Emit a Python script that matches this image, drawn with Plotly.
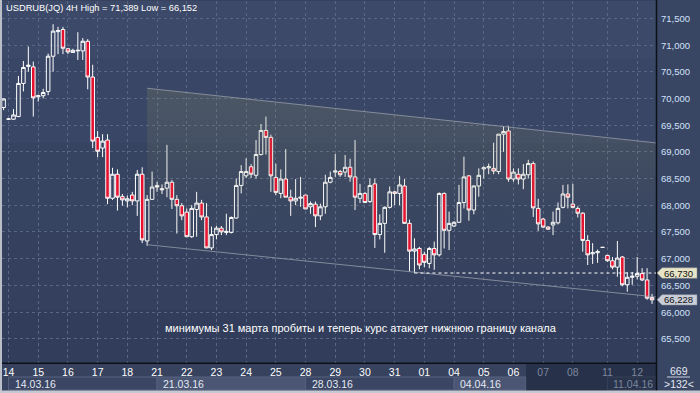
import plotly.graph_objects as go

# ---------------- data ----------------
opens = [69.83, 69.61, 69.61, 69.66, 70.28, 70.60, 70.59, 70.03, 70.05, 70.13,
         70.79, 71.25, 71.29, 70.93, 70.86, 70.89, 70.89, 71.07, 70.40, 69.27,
         69.07, 69.22, 68.13, 68.58, 68.16, 68.08, 68.19, 68.08, 68.58, 67.33,
         68.11, 68.37, 68.31, 68.32, 68.43, 68.11, 67.99, 67.87, 67.41, 67.92,
         68.04, 67.78, 67.20, 67.45, 67.57, 67.49, 67.49, 67.76, 68.37, 68.55,
         68.72, 68.56, 68.95, 69.40, 69.27, 68.52, 68.22, 68.49, 68.15, 68.08,
         68.13, 68.19, 67.97, 68.02, 67.80, 67.97, 68.43, 68.62, 68.63, 68.62,
         68.71, 68.53, 68.13, 68.22, 68.07, 68.40, 67.45, 67.66, 67.96, 68.25,
         68.22, 68.36, 67.66, 67.14, 67.19, 67.08, 66.91, 67.19, 67.07, 68.22,
         67.53, 67.61, 67.68, 68.05, 68.55, 67.91, 68.36, 68.68, 68.70, 68.69,
         68.63, 69.33, 69.39, 68.49, 68.58, 68.49, 68.57, 68.78, 67.94, 67.74,
         67.59, 67.63, 67.67, 67.96, 68.21, 68.02, 67.94, 67.85, 67.34, 67.09,
         67.11, 67.21, 67.06, 66.96, 66.84, 67.03, 66.51, 66.65, 66.67, 66.72,
         66.60, 66.27]
highs = [70.00, 69.63, 69.80, 70.42, 70.70, 70.97, 70.69, 70.07, 70.18, 70.84,
         71.389, 71.34, 71.34, 70.94, 70.93, 71.24, 71.13, 71.11, 70.63, 69.39,
         69.33, 69.33, 68.70, 68.67, 68.21, 68.18, 68.25, 68.66, 68.71, 68.19,
         68.63, 68.44, 68.39, 69.13, 68.47, 68.19, 68.04, 67.94, 68.00, 68.25,
         68.10, 68.04, 67.60, 67.61, 67.61, 67.84, 67.79, 68.50, 68.75, 68.88,
         68.77, 69.22, 69.52, 69.66, 69.32, 68.78, 68.67, 69.05, 68.29, 68.49,
         68.53, 68.19, 68.07, 68.07, 68.03, 68.57, 68.63, 68.96, 68.66, 68.94,
         68.87, 69.22, 68.40, 68.25, 68.50, 68.50, 67.83, 67.98, 68.35, 68.27,
         68.55, 68.49, 67.73, 67.38, 67.22, 67.13, 67.22, 67.32, 68.24, 68.24,
         67.88, 67.70, 68.38, 68.91, 68.56, 68.37, 68.69, 68.73, 68.78, 69.17,
         69.33, 69.48, 69.48, 68.69, 68.69, 68.77, 68.85, 68.82, 68.12, 67.76,
         67.61, 67.88, 68.05, 68.38, 68.39, 68.40, 67.98, 67.87, 67.44, 67.29,
         67.17, 67.21, 67.07, 67.03, 67.33, 67.05, 66.75, 66.75, 67.03, 66.82,
         66.82, 66.34]
lows = [69.78, 69.60, 69.60, 69.65, 70.13, 70.50, 69.66, 69.94, 70.00, 70.06,
        70.50, 70.83, 70.83, 70.83, 70.85, 70.72, 70.72, 70.17, 69.07, 68.90,
        68.90, 68.02, 68.10, 67.90, 67.99, 67.96, 68.00, 67.80, 67.29, 67.24,
        68.10, 68.25, 68.21, 68.15, 67.93, 67.47, 67.72, 67.41, 67.39, 67.41,
        67.72, 67.20, 67.16, 67.36, 67.44, 67.44, 67.47, 67.75, 68.22, 68.51,
        68.51, 68.50, 68.93, 68.95, 68.25, 68.19, 68.13, 68.15, 67.80, 68.00,
        67.97, 67.93, 67.84, 67.59, 67.72, 67.84, 68.41, 68.53, 68.53, 68.53,
        68.44, 67.91, 68.04, 68.04, 68.04, 67.20, 67.36, 67.11, 67.94, 68.00,
        68.00, 67.65, 66.76, 66.73, 66.80, 66.84, 66.82, 66.79, 67.04, 67.19,
        67.16, 67.59, 67.67, 67.94, 67.71, 67.83, 68.16, 68.50, 68.58, 68.58,
        68.58, 69.00, 68.44, 68.44, 68.39, 68.30, 68.50, 67.78, 67.52, 67.57,
        67.54, 67.44, 67.64, 67.94, 67.94, 67.94, 67.77, 67.13, 66.88, 66.90,
        66.92, 67.21, 66.94, 66.80, 66.66, 66.48, 66.38, 66.51, 66.61, 66.58,
        66.23, 66.152]
closes = [69.99, 69.615, 69.69, 70.28, 70.58, 70.62, 70.01, 70.05, 70.11, 70.79,
          71.26, 71.27, 70.94, 70.87, 70.90, 70.90, 71.07, 70.40, 69.20, 69.01,
          69.20, 68.13, 68.58, 68.15, 68.10, 68.12, 68.08, 68.58, 67.35, 68.11,
          68.34, 68.34, 68.29, 68.43, 68.11, 67.99, 67.80, 67.41, 67.94, 68.04,
          67.78, 67.20, 67.45, 67.57, 67.50, 67.51, 67.77, 68.37, 68.63, 68.63,
          68.58, 68.95, 69.40, 69.27, 68.55, 68.24, 68.49, 68.15, 68.08, 68.13,
          68.15, 67.93, 68.03, 67.80, 67.97, 68.43, 68.52, 68.64, 68.57, 68.71,
          68.53, 68.15, 68.22, 68.05, 68.37, 67.45, 67.66, 67.96, 68.25, 68.22,
          68.38, 67.66, 67.14, 67.18, 66.88, 66.93, 67.19, 67.07, 68.22, 67.53,
          67.66, 67.68, 68.05, 68.53, 67.91, 68.36, 68.56, 68.70, 68.72, 68.64,
          69.33, 69.38, 68.49, 68.62, 68.49, 68.58, 68.78, 67.95, 67.65, 67.59,
          67.55, 67.68, 67.94, 68.21, 68.15, 67.96, 67.85, 67.34, 67.07, 67.11,
          67.13, 67.21, 66.96, 66.84, 67.01, 66.51, 66.65, 66.67, 66.72, 66.60,
          66.26, 66.228]
bar_index = list(range(len(closes)))

day_ticks = [1, 7, 13, 19, 25, 31, 37, 43, 49, 55, 61, 67, 73, 79, 85,
             91, 97, 103, 109, 115, 122, 128]
day_labels = ["14", "15", "16", "17", "18", "21", "22", "23", "24", "25", "28",
              "29", "30", "31", "01", "04", "05", "06", "07", "08", "11", "12"]
day_dim = [False] * 18 + [True] * 4
week_ticks = [1, 31, 61, 91, 122]
week_labels = ["14.03.16", "21.03.16", "28.03.16", "04.04.16", "11.04.16"]

price_ticks = [65.5, 66.0, 66.5, 67.0, 67.5, 68.0, 68.5, 69.0, 69.5, 70.0, 70.5, 71.0, 71.5]
price_labels = ["65,500", "66,000", "66,500", "67,000", "67,500", "68,000", "68,500",
                "69,000", "69,500", "70,000", "70,500", "71,000", "71,500"]

channel_x = [29, 132]
channel_upper = [70.19, 69.165]
channel_lower = [67.26, 66.28]

march31_low = 66.73
last_price = 66.228
title_text = "USDRUB(JQ) 4H High = 71,389 Low = 66,152"
note_text = "минимумы 31 марта пробиты и теперь курс атакует нижнюю границу канала"
bars_total = "669"
bars_visible = ">132<"

# ---------------- layout geometry ----------------
W, H = 700, 393
ML, MR, MT, MB = 2, 44, 1, 30
PW, PH = W - ML - MR, H - MT - MB
X_RANGE = [-0.32, 131.8]
Y_RANGE = [65.045, 71.824]

def px_x(px):
    return (px - ML) / PW

def px_y(py):
    return (H - MB - py) / PH

def idx_px(i):
    return ML + (i - X_RANGE[0]) * PW / (X_RANGE[1] - X_RANGE[0])

FONT = "Liberation Sans, Arial, sans-serif"
RED = "#e8102f"

fig = go.Figure()

# channel fill (vertical gradient) and border lines
fig.add_trace(go.Scatter(
    x=[channel_x[0], channel_x[1], channel_x[1], channel_x[0]],
    y=[channel_lower[0], channel_lower[1], channel_upper[1], channel_upper[0]],
    mode="none", fill="toself",
    fillgradient=dict(type="vertical",
                      colorscale=[[0, "rgba(134,137,95,0.0)"], [0.45, "rgba(134,137,95,0.06)"],
                                  [1, "rgba(134,137,95,0.24)"]]),
    hoverinfo="skip", showlegend=False))
for ys in (channel_lower, channel_upper):
    fig.add_trace(go.Scatter(x=channel_x, y=ys, mode="lines",
                             line=dict(color="rgba(150,156,168,0.8)", width=1),
                             hoverinfo="skip", showlegend=False))

fig.add_trace(go.Candlestick(
    x=bar_index, open=opens, high=highs, low=lows, close=closes,
    increasing=dict(line=dict(color="#ffffff", width=1), fillcolor="rgba(0,0,0,0)"),
    decreasing=dict(line=dict(color="#ffffff", width=1), fillcolor=RED),
    whiskerwidth=0, hoverinfo="skip", showlegend=False))

shapes = []
# background gradient bands in the plot area
bands = [(1, 58, "#3c4969"), (58, 143, "#394666"), (143, 230, "#364361"),
         (230, 310, "#34405e"), (310, 363, "#313d5a")]
for y0, y1, c in bands:
    shapes.append(dict(type="rect", xref="paper", yref="paper", x0=0, x1=1,
                       y0=px_y(y1), y1=px_y(y0), fillcolor=c, line_width=0, layer="below"))

# bottom axis panel
shapes.append(dict(type="rect", xref="paper", yref="paper", x0=px_x(0), x1=px_x(656),
                   y0=px_y(393), y1=px_y(363), fillcolor="#36425e", line_width=0, layer="below"))
for k, wt in enumerate(week_ticks):
    x0 = idx_px(wt)
    x1 = idx_px(week_ticks[k + 1]) if k + 1 < len(week_ticks) else 656
    if k == 3:
        x1 = 526
    col = "#4a5674" if k % 2 == 1 else "#3a4663"
    shapes.append(dict(type="rect", xref="paper", yref="paper", x0=px_x(x0), x1=px_x(x1),
                       y0=px_y(390), y1=px_y(377), fillcolor=col,
                       line=dict(color="#56627e", width=1), layer="below"))
# dim overlay on the right side of time axis
shapes.append(dict(type="rect", xref="paper", yref="paper", x0=px_x(526), x1=px_x(656),
                   y0=px_y(391), y1=px_y(364), fillcolor="rgba(28,36,56,0.55)",
                   line_width=0, layer="below"))
# right panel
shapes.append(dict(type="rect", xref="paper", yref="paper", x0=px_x(656), x1=px_x(700),
                   y0=px_y(393), y1=px_y(0), fillcolor="#384563", line_width=0, layer="below"))
# separating black lines
shapes.append(dict(type="line", xref="paper", yref="paper", x0=px_x(656.5), x1=px_x(656.5),
                   y0=px_y(393), y1=px_y(0), line=dict(color="#0c1018", width=1.5)))
shapes.append(dict(type="line", xref="paper", yref="paper", x0=px_x(0), x1=px_x(656.5),
                   y0=px_y(363.3), y1=px_y(363.3), line=dict(color="#0c1018", width=1.5)))
# light frame
shapes.append(dict(type="rect", xref="paper", yref="paper", x0=px_x(0), x1=px_x(2),
                   y0=px_y(393), y1=px_y(0), fillcolor="#b9bec8", line_width=0))
shapes.append(dict(type="rect", xref="paper", yref="paper", x0=px_x(0), x1=px_x(700),
                   y0=px_y(393), y1=px_y(390.5), fillcolor="#c4c8d0", line_width=0))
# bar-count separator
shapes.append(dict(type="line", xref="paper", yref="paper", x0=px_x(667), x1=px_x(690),
                   y0=px_y(377), y1=px_y(377), line=dict(color="#c8d0e0", width=1)))

# dotted level of 31 March low
shapes.append(dict(type="line", xref="x", yref="y", x0=83, x1=X_RANGE[1],
                   y0=march31_low, y1=march31_low,
                   line=dict(color="#ffffff", width=1, dash="dot")))

# price tags on the right axis
def tag(price, color):
    h = 5.2 / 53.4
    xl, xm, xr = px_x(657), px_x(662), px_x(697)
    return dict(type="path", xref="paper", yref="y",
                path=f"M {xl} {price} L {xm} {price + h} L {xr} {price + h} "
                     f"L {xr} {price - h} L {xm} {price - h} Z",
                fillcolor=color, line=dict(color="#8a8f9a", width=0.5))

annotations = []
# price scale labels (right side)
for pv, pl in zip(price_ticks, price_labels):
    annotations.append(dict(xref="paper", yref="y", x=px_x(659), y=pv, text=pl,
                            showarrow=False, xanchor="left", yanchor="middle",
                            font=dict(family=FONT, size=9.5, color="#d2e2fa")))

shapes.append(tag(march31_low, "#e8e4c6"))
shapes.append(tag(last_price, "#c9cdd8"))

annotations.append(dict(xref="paper", yref="paper", x=px_x(4), y=px_y(8.5), text=title_text,
                        showarrow=False, xanchor="left", yanchor="middle",
                        font=dict(family=FONT, size=9.3, color="#ffffff")))
annotations.append(dict(xref="paper", yref="paper", x=px_x(360.5), y=px_y(327.5), text=note_text,
                        showarrow=False, xanchor="center", yanchor="middle",
                        font=dict(family=FONT, size=11, color="#ffffff")))
for k, (wt, wl) in enumerate(zip(week_ticks, week_labels)):
    annotations.append(dict(xref="paper", yref="paper", x=px_x(idx_px(wt) + 4), y=px_y(383.5),
                            text=wl, showarrow=False, xanchor="left", yanchor="middle",
                            font=dict(family=FONT, size=10.5,
                                      color="#7b879e" if k == 4 else "#e4e9f2")))
for price, txt in [(march31_low, "66,730"), (last_price, "66,228")]:
    annotations.append(dict(xref="paper", yref="y", x=px_x(678.5), y=price, text=txt,
                            showarrow=False, xanchor="center", yanchor="middle",
                            bgcolor="rgba(0,0,0,0)",
                            font=dict(family=FONT, size=9.5, color="#111111")))
annotations.append(dict(xref="paper", yref="paper", x=px_x(679), y=px_y(371), text=bars_total,
                        showarrow=False, xanchor="center", yanchor="middle",
                        font=dict(family=FONT, size=10.5, color="#e4e9f2")))
annotations.append(dict(xref="paper", yref="paper", x=px_x(679), y=px_y(383.5), text=bars_visible,
                        showarrow=False, xanchor="center", yanchor="middle",
                        font=dict(family=FONT, size=10.5, color="#e4e9f2")))

tick_text = [f'<span style="color:#7b879e">{t}</span>' if d else t
             for t, d in zip(day_labels, day_dim)]

fig.update_layout(
    width=W, height=H,
    margin=dict(l=ML, r=MR, t=MT, b=MB, pad=0),
    paper_bgcolor="#36425e", plot_bgcolor="#36435f",
    showlegend=False, boxgap=0.2, boxgroupgap=0.1,
    shapes=shapes, annotations=annotations,
    xaxis=dict(range=X_RANGE, tickvals=day_ticks, ticktext=tick_text,
               showgrid=True, gridcolor="#5a6784", griddash="3px,3px", gridwidth=1,
               zeroline=False, showline=False, ticks="", ticklabelstandoff=1,
               tickfont=dict(family=FONT, size=10.5, color="#ffffff"),
               rangeslider=dict(visible=False), fixedrange=True),
    yaxis=dict(range=Y_RANGE, side="right", tickvals=price_ticks, showticklabels=False,
               showgrid=True, gridcolor="#5a6784", griddash="3px,3px", gridwidth=1,
               zeroline=False, showline=False, ticks="", fixedrange=True),
)

fig.write_html("out.html", config={"displayModeBar": False},
               post_script="document.body.style.margin='0';document.body.style.padding='0';"
                           "document.body.style.overflow='hidden';")
